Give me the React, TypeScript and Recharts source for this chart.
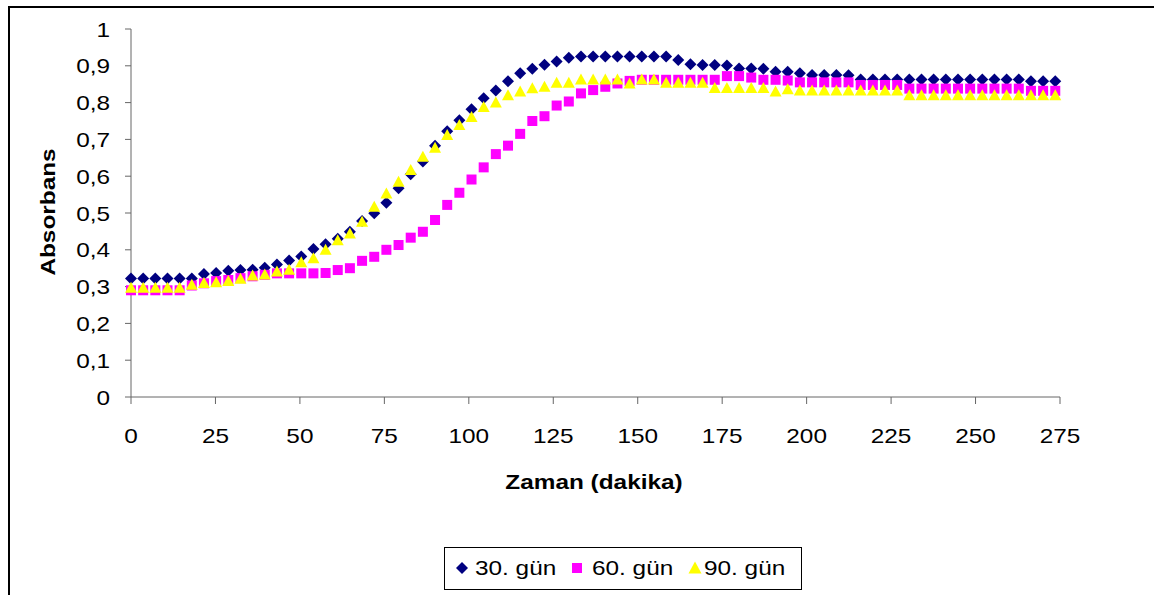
import React from 'react';
import { ScatterChart, Scatter, XAxis, YAxis } from 'recharts';

// sampling times (minutes)
const times = [
  0, 3.6, 7.2, 10.8, 14.4, 18, 21.6, 25.2, 28.8, 32.4, 36, 39.6, 43.2, 46.8, 50.4, 54,
  57.6, 61.2, 64.8, 68.4, 72, 75.6, 79.2, 82.8, 86.4, 90, 93.6, 97.2, 100.8, 104.4, 108,
  111.6, 115.2, 118.8, 122.4, 126, 129.6, 133.2, 136.8, 140.4, 144, 147.6, 151.2, 154.8,
  158.4, 162, 165.6, 169.2, 172.8, 176.4, 180, 183.6, 187.2, 190.8, 194.4, 198, 201.6,
  205.2, 208.8, 212.4, 216, 219.6, 223.2, 226.8, 230.4, 234, 237.6, 241.2, 244.8, 248.4,
  252, 255.6, 259.2, 262.8, 266.4, 270, 273.6,
];

// absorbance readings per storage day
const day30 = [
  0.322, 0.322, 0.322, 0.322, 0.322, 0.322,
  0.334, 0.337, 0.343, 0.345, 0.346, 0.351, 0.36, 0.371,
  0.382, 0.402, 0.415, 0.43, 0.449, 0.478, 0.499, 0.528, 0.567, 0.605, 0.64, 0.683,
  0.722, 0.752, 0.782, 0.812, 0.833, 0.858, 0.88, 0.892, 0.903, 0.912, 0.922,
  0.925, 0.925, 0.925, 0.925, 0.925, 0.925, 0.925, 0.925,
  0.916, 0.904, 0.902, 0.902, 0.901, 0.893, 0.893, 0.892, 0.884, 0.884,
  0.88, 0.875, 0.875, 0.875, 0.874,
  0.863, 0.863, 0.863, 0.863, 0.863, 0.863, 0.863, 0.863, 0.863, 0.863, 0.863, 0.863, 0.863, 0.863,
  0.858, 0.858, 0.858,
];

const day60 = [
  0.29, 0.29, 0.29, 0.29, 0.29,
  0.303, 0.309, 0.315, 0.318, 0.323, 0.328, 0.332,
  0.336, 0.336, 0.336, 0.336, 0.337,
  0.345, 0.35, 0.37, 0.381, 0.4, 0.413, 0.433, 0.449, 0.481, 0.522, 0.555, 0.591, 0.624,
  0.66, 0.683, 0.715, 0.75, 0.763, 0.792, 0.803, 0.825, 0.834, 0.843, 0.852, 0.859,
  0.862, 0.862, 0.862, 0.862, 0.862, 0.862, 0.862,
  0.872, 0.872, 0.868, 0.862, 0.862, 0.86,
  0.855, 0.855, 0.855, 0.855, 0.855,
  0.848, 0.848, 0.848, 0.848,
  0.838, 0.838, 0.838, 0.838, 0.838, 0.838, 0.838, 0.838, 0.838, 0.838,
  0.832, 0.832, 0.832,
];

const day90 = [
  0.297, 0.297, 0.297, 0.297, 0.297,
  0.305, 0.31, 0.312, 0.315, 0.321, 0.33, 0.333, 0.341, 0.346, 0.366, 0.377, 0.4, 0.426,
  0.444, 0.476, 0.517, 0.553, 0.585, 0.617, 0.653, 0.677, 0.712, 0.739, 0.761, 0.788,
  0.8, 0.82, 0.83, 0.839, 0.843, 0.854, 0.854,
  0.863, 0.863, 0.863, 0.863,
  0.852, 0.863, 0.863, 0.854, 0.854, 0.854, 0.854,
  0.84, 0.84, 0.84, 0.84, 0.84, 0.83, 0.836,
  0.833, 0.833, 0.833, 0.833, 0.833, 0.833, 0.833, 0.833, 0.833,
  0.82, 0.82, 0.82, 0.82, 0.82, 0.82, 0.82, 0.82, 0.82, 0.82, 0.82, 0.82, 0.82,
];

const seriesNames = ['30. gün', '60. gün', '90. gün'];
const xTicks = [0, 25, 50, 75, 100, 125, 150, 175, 200, 225, 250, 275];
const yTicks = [0, 0.1, 0.2, 0.3, 0.4, 0.5, 0.6, 0.7, 0.8, 0.9, 1];

const NAVY = '#000080';
const MAGENTA = '#FF00FF';
const YELLOW = '#FFFF00';
const FONT = '"Liberation Sans", Arial, sans-serif';
const STRETCH = 1.16;

const toPoints = (vals: number[]) => times.map((t, i) => ({ t, v: vals[i] }));

// marker shapes
const Diamond = ({ cx, cy, r = 6, fill = NAVY }: any) => (
  <polygon points={`${cx},${cy - r} ${cx + r},${cy} ${cx},${cy + r} ${cx - r},${cy}`} fill={fill} />
);
const Square = ({ cx, cy, s = 10, fill = MAGENTA }: any) => (
  <rect x={cx - s / 2} y={cy - s / 2} width={s} height={s} fill={fill} />
);
const Triangle = ({ cx, cy, w = 12, h = 11, fill = YELLOW }: any) => (
  <polygon points={`${cx},${cy - h / 2 - 0.5} ${cx + w / 2},${cy + h / 2 - 0.5} ${cx - w / 2},${cy + h / 2 - 0.5}`} fill={fill} />
);

const fmtY = (v: number) => (v === 0 || v === 1 ? String(v) : v.toFixed(1).replace('.', ','));

const XTick = ({ x, y, payload }: any) => (
  <text
    transform={`translate(${x},${y + 37}) scale(${STRETCH},1)`}
    textAnchor="middle"
    fontFamily={FONT}
    fontSize={21}
    fill="#000"
  >
    {payload.value}
  </text>
);

const YTick = ({ x, y, payload }: any) => (
  <text
    transform={`translate(${x - 13},${y + 7.5}) scale(${STRETCH},1)`}
    textAnchor="end"
    fontFamily={FONT}
    fontSize={21}
    fill="#000"
  >
    {fmtY(payload.value)}
  </text>
);

const label = (x: number, y: number, text: string) => (
  <text
    transform={`translate(${x},${y}) scale(${STRETCH},1)`}
    fontFamily={FONT}
    fontSize={21}
    fill="#000"
  >
    {text}
  </text>
);

export default function App() {
  return (
    <div style={{ position: 'fixed', left: 0, top: 0, width: 1154, height: 595, overflow: 'hidden', background: '#fff' }}>
      {/* outer frame, only top and left edges fall inside the page */}
      <div
        style={{
          position: 'absolute',
          left: 8,
          top: 6,
          width: 1146,
          height: 589,
          boxSizing: 'border-box',
          borderTop: '2px solid #000',
          borderLeft: '2px solid #000',
        }}
      />
      <div style={{ position: 'absolute', left: 0, top: 0 }}>
        <ScatterChart width={1154} height={595} margin={{ top: 29, right: 94, bottom: 138, left: 51 }}>
          <XAxis
            type="number"
            dataKey="t"
            domain={[0, 275]}
            ticks={xTicks}
            interval={0}
            height={60}
            tickSize={7}
            stroke="#666"
            tick={<XTick />}
          />
          <YAxis
            type="number"
            dataKey="v"
            domain={[0, 1]}
            ticks={yTicks}
            interval={0}
            width={80}
            tickSize={6}
            stroke="#666"
            tick={<YTick />}
          />
          <Scatter name={seriesNames[0]} data={toPoints(day30)} shape={(p: any) => <Diamond cx={p.cx} cy={p.cy} />} isAnimationActive={false} />
          <Scatter name={seriesNames[1]} data={toPoints(day60)} shape={(p: any) => <Square cx={p.cx} cy={p.cy} />} isAnimationActive={false} />
          <Scatter name={seriesNames[2]} data={toPoints(day90)} shape={(p: any) => <Triangle cx={p.cx} cy={p.cy} />} isAnimationActive={false} />
        </ScatterChart>
      </div>
      {/* axis titles and legend */}
      <svg width={1154} height={595} style={{ position: 'absolute', left: 0, top: 0, pointerEvents: 'none' }}>
        <text
          transform={`translate(594,489) scale(${STRETCH},1)`}
          textAnchor="middle"
          fontFamily={FONT}
          fontSize={21}
          fontWeight="bold"
          fill="#000"
        >
          Zaman (dakika)
        </text>
        <text
          transform={`translate(55,212) rotate(-90) scale(${STRETCH},1)`}
          textAnchor="middle"
          fontFamily={FONT}
          fontSize={21}
          fontWeight="bold"
          fill="#000"
        >
          Absorbans
        </text>
        <rect x={444.5} y={547.5} width={357} height={42} fill="#fff" stroke="#000" strokeWidth={1} />
        <Diamond cx={462} cy={568} r={6} />
        {label(475, 575, seriesNames[0])}
        <Square cx={577} cy={568} s={10} />
        {label(592, 575, seriesNames[1])}
        <Triangle cx={695} cy={568} w={13} h={12} />
        {label(704, 575, seriesNames[2])}
      </svg>
    </div>
  );
}
